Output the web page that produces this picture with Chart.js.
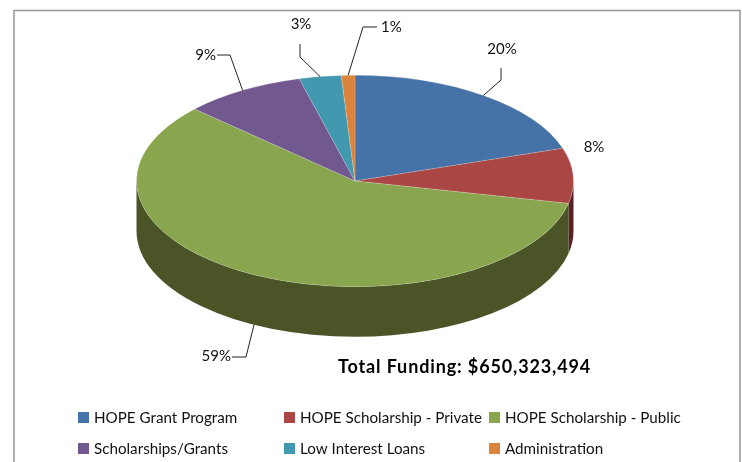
<!DOCTYPE html>
<html>
<head>
<meta charset="utf-8">
<title>Total Funding</title>
<script src="https://cdn.jsdelivr.net/npm/chart.js@4"></script>
<style>
  html, body { margin: 0; background: #fff; }
  canvas { display: block; }
</style>
</head>
<body>
<canvas id="chart" width="742" height="462"></canvas>
<script>
const categories = ['HOPE Grant Program', 'HOPE Scholarship - Private', 'HOPE Scholarship - Public', 'Scholarships/Grants', 'Low Interest Loans', 'Administration'];
const shares = [20, 8.4, 58.5, 9, 3.1, 1];
const topColors = ['#4572A7', '#AA4643', '#89A54E', '#71588F', '#4198AF', '#DB843D'];
const wallColors = ['#25405F', '#5A2022', '#4A5427', '#3D2E50', '#215564', '#7A4820'];
const totalLabel = 'Total Funding: $650,323,494';

// squash and depth of the fake 3D pie
const squash = 0.484;
const depth = 50;
const pieCenterY = 181;

// label anchor, elbow of the leader line, end of the leader line
const labelLayout = [
  { x: 502, y: 49, align: 'center', elbow: [501, 80], end: [501, 68] },
  { x: 594, y: 147, align: 'center' },
  { x: 231, y: 356, align: 'right', elbow: [246, 357], end: [232, 357], onWall: true },
  { x: 216, y: 55, align: 'right', elbow: [230, 55], end: [217, 55] },
  { x: 301, y: 24, align: 'center', elbow: [300, 57], end: [300, 44] },
  { x: 381, y: 27, align: 'left', elbow: [363, 27], end: [377, 27] }
];
const legendColumns = [78, 284, 489];
const legendRows = [418, 449];

const pie3d = {
  id: 'pie3d',
  beforeDatasetsDraw(chart) {
    const ctx = chart.ctx;
    const arcs = chart.getDatasetMeta(0).data;
    ctx.save();
    arcs.forEach((arc, i) => {
      const a0 = Math.max(arc.startAngle, 0);
      const a1 = Math.min(arc.endAngle, Math.PI);
      if (a0 >= a1) return;
      const rx = arc.outerRadius;
      const ry = rx * squash;
      ctx.beginPath();
      ctx.ellipse(arc.x, pieCenterY, rx, ry, 0, a0, a1);
      ctx.ellipse(arc.x, pieCenterY + depth, rx, ry, 0, a1, a0, true);
      ctx.closePath();
      ctx.fillStyle = wallColors[i];
      ctx.fill();
    });
    // the library draws the slices round, squash them here
    const cy = arcs[0].y;
    ctx.translate(0, pieCenterY);
    ctx.scale(1, squash);
    ctx.translate(0, -cy);
  },
  afterDatasetsDraw(chart) {
    chart.ctx.restore();
  },
  afterDraw(chart) {
    const ctx = chart.ctx;
    const arcs = chart.getDatasetMeta(0).data;
    ctx.save();

    // frame, the bottom side is cut off by the picture
    ctx.strokeStyle = '#969696';
    ctx.lineWidth = 1.5;
    ctx.beginPath();
    ctx.moveTo(14, 470);
    ctx.lineTo(14, 10.5);
    ctx.lineTo(740, 10.5);
    ctx.lineTo(740, 470);
    ctx.stroke();

    // data labels and leader lines
    ctx.font = '15px Lato';
    ctx.textBaseline = 'middle';
    shares.forEach((v, i) => {
      const l = labelLayout[i];
      if (l.elbow) {
        const arc = arcs[i];
        const mid = (arc.startAngle + arc.endAngle) / 2;
        const ax = arc.x + arc.outerRadius * Math.cos(mid);
        const ay = pieCenterY + arc.outerRadius * squash * Math.sin(mid) + (l.onWall ? depth : 0);
        ctx.strokeStyle = '#222';
        ctx.lineWidth = 1;
        ctx.beginPath();
        ctx.moveTo(ax, ay);
        ctx.lineTo(l.elbow[0], l.elbow[1]);
        ctx.lineTo(l.end[0], l.end[1]);
        ctx.stroke();
      }
      ctx.fillStyle = '#111';
      ctx.textAlign = l.align;
      ctx.fillText(Math.round(v) + '%', l.x, l.y);
    });

    ctx.fillStyle = '#000';
    ctx.textAlign = 'left';
    ctx.font = 'bold 18px Lato';
    ctx.letterSpacing = '0.87px';
    ctx.fillText(totalLabel, 338, 367);
    ctx.letterSpacing = '0px';

    // legend, three fixed columns
    ctx.font = '15.2px Lato';
    categories.forEach((name, i) => {
      const x = legendColumns[i % 3];
      const y = legendRows[Math.floor(i / 3)];
      ctx.fillStyle = topColors[i];
      ctx.fillRect(x, y - 6, 11, 11);
      ctx.fillStyle = '#111';
      ctx.fillText(name, x + 16, y);
    });
    ctx.restore();
  }
};

new Chart(document.getElementById('chart'), {
  type: 'pie',
  data: {
    labels: categories,
    datasets: [{
      data: shares,
      backgroundColor: topColors,
      borderColor: 'rgba(255,255,255,0.25)',
      borderWidth: 1
    }]
  },
  options: {
    responsive: false,
    animation: false,
    events: [],
    layout: { padding: { left: 136, right: 168, top: 12, bottom: 12 } },
    plugins: { legend: { display: false }, tooltip: { enabled: false } }
  },
  plugins: [pie3d]
});
</script>
</body>
</html>
